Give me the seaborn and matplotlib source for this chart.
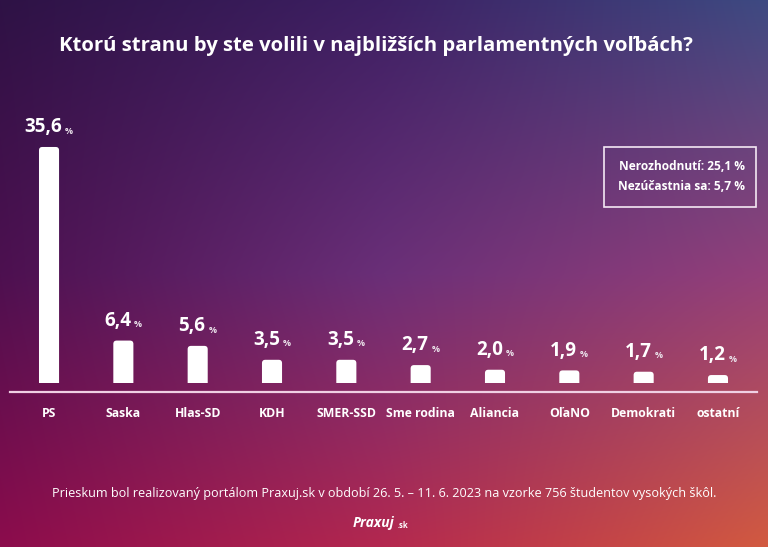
import numpy as np
import pandas as pd
import seaborn as sns
import matplotlib.pyplot as plt
from matplotlib.patches import FancyBboxPatch, Rectangle

parties = ["PS", "Saska", "Hlas-SD", "KDH", "SMER-SSD", "Sme rodina",
           "Aliancia", "OľaNO", "Demokrati", "ostatní"]
shares = [35.6, 6.4, 5.6, 3.5, 3.5, 2.7, 2.0, 1.9, 1.7, 1.2]
value_labels = ["35,6", "6,4", "5,6", "3,5", "3,5", "2,7", "2,0", "1,9", "1,7", "1,2"]

title = "Ktorú stranu by ste volili v najbližších parlamentných voľbách?"
box_lines = ["Nerozhodnutí: 25,1 %", "Nezúčastnia sa: 5,7 %"]
footer = ("Prieskum bol realizovaný portálom Praxuj.sk v období 26. 5. – 11. 6. 2023 "
          "na vzorke 756 študentov vysokých škôl.")

# 3x3 grid of background colours (top row first)
bg_grid = [["#2e1245", "#3d2063", "#3e4a82"],
           ["#4d1050", "#6a2f78", "#94407a"],
           ["#8c0c4c", "#b4284f", "#d25a40"]]

sns.set_theme(style="white")
plt.rcParams['font.family'] = ['Open Sans', 'DejaVu Sans']

W, H = 768, 547
fig = plt.figure(figsize=(W / 100, H / 100), dpi=100)


def hex_rgb(h):
    return [int(h[i:i + 2], 16) / 255 for i in (1, 3, 5)]


def gradient(grid, w, h):
    g = np.array([[hex_rgb(c) for c in row] for row in grid])
    xs = np.linspace(0, 2, w)
    ys = np.linspace(0, 2, h)
    rows = np.stack([[np.interp(xs, [0, 1, 2], g[r, :, k]) for k in range(3)]
                     for r in range(3)])  # (3 rows, 3 ch, w)
    img = np.empty((h, w, 3))
    for k in range(3):
        for j in range(w):
            img[:, j, k] = np.interp(ys, [0, 1, 2], rows[:, k, j])
    return img


bg = fig.add_axes([0, 0, 1, 1], zorder=-1)
bg.imshow(gradient(bg_grid, W, H), aspect="auto")
bg.axis("off")

# main bar axes: left edge 10px, right 757px, bottom line at y=392, top at y=110
px_per_unit = 6.63
base_y = 383
top_px, line_px = 110, 392
ax = fig.add_axes([10 / W, (H - line_px) / H, 747 / W, (line_px - top_px) / H])
ax.patch.set_alpha(0)

df = pd.DataFrame({"party": parties, "share": shares})
sns.barplot(data=df, x="party", y="share", color="white", saturation=1,
            width=0.27, ax=ax)

ax.set_xlim(-0.525, 9.525)
ax.set_ylim(-(line_px - base_y) / px_per_unit, (base_y - top_px) / px_per_unit)

# rounded tops
aspect = (1 / px_per_unit) / (1 / 74.33)
clip = Rectangle((-1, 0), 12, 100, transform=ax.transData)
for p in list(ax.patches):
    x0, w, h = p.get_x(), p.get_width(), p.get_height()
    p.remove()
    fb = FancyBboxPatch((x0, -1), w, h + 1,
                        boxstyle="round,pad=0,rounding_size=0.045",
                        mutation_aspect=aspect, fc="white", ec="none")
    ax.add_patch(fb)
    fb.set_clip_path(clip)

for i, (v, lab) in enumerate(zip(shares, value_labels)):
    t = ax.annotate(lab, xy=(i, v), xytext=(-4, 7), textcoords="offset points",
                    ha="center", va="bottom", color="white",
                    fontsize=13.5, fontweight="bold")
    ax.annotate("%", xy=(1, 0.08), xycoords=t, xytext=(2, 0),
                textcoords="offset points", ha="left", va="bottom",
                color="#ece4ec", fontsize=6.5, fontweight="bold")

for s in ["top", "left", "right"]:
    ax.spines[s].set_visible(False)
ax.spines["bottom"].set_color("#f0d0e4")
ax.spines["bottom"].set_linewidth(1.6)
ax.set_yticks([])
ax.set_xlabel("")
ax.set_ylabel("")
ax.tick_params(axis="x", length=0, pad=11)
for lbl in ax.get_xticklabels():
    lbl.set_color("white")
    lbl.set_fontweight("bold")
    lbl.set_fontsize(8.8)

fig.text(376 / W, 1 - 46 / H, title, ha="center", va="center",
         color="white", fontsize=14.6, fontweight="bold")

# info box
fig.patches.append(Rectangle((604 / W, 1 - 207 / H), 152 / W, 60 / H,
                             transform=fig.transFigure, fill=False,
                             ec="#f4e8f4", lw=1.2))
for j, line in enumerate(box_lines):
    fig.text(745 / W, 1 - (166 + 21 * j) / H, line, ha="right", va="center",
             color="white", fontsize=8.6, fontweight="bold")

fig.text(384 / W, 1 - 493 / H, footer, ha="center", va="center",
         color="white", fontsize=9.1)
fig.text(374 / W, 1 - 523 / H, "Praxuj", ha="center", va="center",
         color="white", fontsize=10, fontweight="bold", style="italic")
fig.text(398 / W, 1 - 526 / H, ".sk", ha="left", va="center",
         color="white", fontsize=5.5, fontweight="bold")

fig.savefig("out.png", dpi=100)
